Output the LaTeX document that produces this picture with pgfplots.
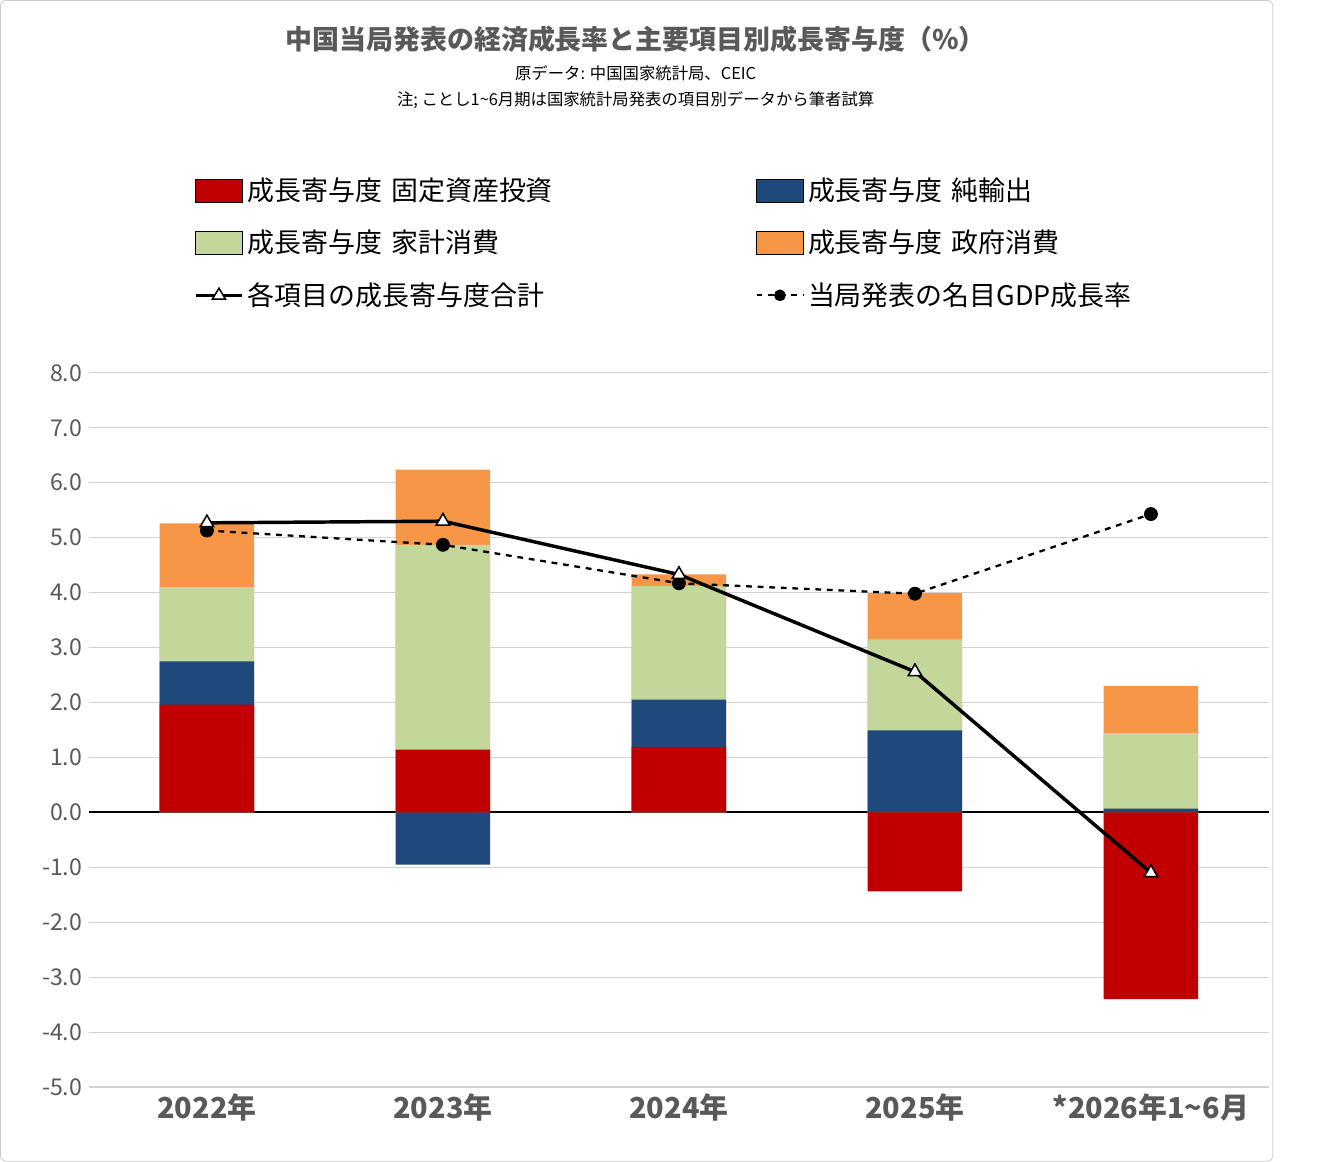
\documentclass[border=0pt]{standalone}
\usepackage{pgfplots}
\pgfplotsset{compat=1.18}
\usepackage{fontspec}
\setmainfont{Noto Sans CJK JP}
\definecolor{cred}{HTML}{C00000}
\definecolor{cblue}{HTML}{1F497D}
\definecolor{cgreen}{HTML}{C4D79B}
\definecolor{corange}{HTML}{F79646}
\definecolor{tgray}{HTML}{595959}
\begin{document}
\begin{tikzpicture}
\draw[gray!40, rounded corners=3pt] (0,0) rectangle (661pt,603pt);
\node[font=\fontsize{14}{16}\selectfont\bfseries, text=tgray] at (330pt,583pt) {中国当局発表の経済成長率と主要項目別成長寄与度（\%）};
\node[font=\fontsize{8.5}{10}\selectfont, text=black] at (330pt,565pt) {原データ: 中国国家統計局、CEIC};
\node[font=\fontsize{8.5}{10}\selectfont, text=black] at (330pt,551pt) {注; ことし1\textasciitilde6月期は国家統計局発表の項目別データから筆者試算};
\begin{axis}[at={(46pt,38.5pt)}, anchor=south west, scale only axis, width=613pt, height=371pt,
  xmin=-0.5, xmax=4.5, ymin=-5, ymax=8, ytick={-5,-4,...,8},
  xtick={0,1,2,3,4}, xticklabels={2022年,2023年,2024年,2025年,*2026年1\textasciitilde6月},
  xticklabel style={font=\fontsize{15}{17}\selectfont\bfseries, text=tgray},
  yticklabel style={font=\fontsize{12}{14}\selectfont, text=tgray},
  /pgf/number format/.cd, fixed, fixed zerofill, precision=1, assume math mode=true, /pgfplots/.cd,
  axis line style={draw=none}, major tick length=0pt,
  ymajorgrids, grid style={gray!35, line width=0.6pt},
  extra y ticks={0}, extra y tick labels={}, extra y tick style={grid style={black, line width=1pt}},
  legend columns=2,
  legend style={at={(0.084,1.285)}, anchor=north west, draw=none, fill=none,
    font=\fontsize{14}{16}\selectfont, row sep=10pt,
    nodes={text width=262pt, align=left}},
  legend cell align=left,
  legend image code/.code={\fill[#1] (0cm,-0.22cm) rectangle (0.85cm,0.2cm);},
  clip=false]
\addlegendimage{fill=cred}
\addlegendentry{成長寄与度 固定資産投資}
\addlegendimage{fill=cblue}
\addlegendentry{成長寄与度 純輸出}
\addlegendimage{fill=cgreen}
\addlegendentry{成長寄与度 家計消費}
\addlegendimage{fill=corange}
\addlegendentry{成長寄与度 政府消費}
\addlegendimage{legend image code/.code={\draw[black,line width=1.5pt] (0cm,0cm) -- (0.85cm,0cm); \draw[black,fill=white,line width=0.8pt] (0.425cm,0cm) ++(0,0.13cm) -- ++(-0.12cm,-0.2cm) -- ++(0.24cm,0) -- cycle;}}
\addlegendentry{各項目の成長寄与度合計}
\addlegendimage{legend image code/.code={\draw[black,dashed,line width=1pt] (0cm,0cm) -- (0.85cm,0cm); \fill[black] (0.425cm,0cm) circle (0.1cm);}}
\addlegendentry{当局発表の名目GDP成長率}
\addplot[ybar, bar width=0.4, bar shift=0, fill=corange, draw=none, forget plot] coordinates {(0,5.26) (1,6.24) (2,4.33) (3,3.99) (4,2.30)};
\addplot[ybar, bar width=0.4, bar shift=0, fill=cgreen, draw=none, forget plot] coordinates {(0,4.10) (1,4.87) (2,4.12) (3,3.15) (4,1.44)};
\addplot[ybar, bar width=0.4, bar shift=0, fill=cblue, draw=none, forget plot] coordinates {(0,2.75) (1,-0.95) (2,2.05) (3,1.49) (4,0.07)};
\addplot[ybar, bar width=0.4, bar shift=0, fill=cred, draw=none, forget plot] coordinates {(0,1.96) (1,1.14) (2,1.19) (3,-1.44) (4,-3.40)};
\addplot[black, line width=1.2pt, dashed, mark=*, mark size=3pt, mark options={solid, fill=black}, forget plot] coordinates {(0,5.13) (1,4.87) (2,4.17) (3,3.98) (4,5.43)};
\addplot[black, line width=1.8pt, mark=triangle*, mark size=4pt, mark options={solid, fill=white, line width=0.8pt}, forget plot] coordinates {(0,5.27) (1,5.30) (2,4.33) (3,2.56) (4,-1.10)};
\end{axis}
\end{tikzpicture}
\end{document}
